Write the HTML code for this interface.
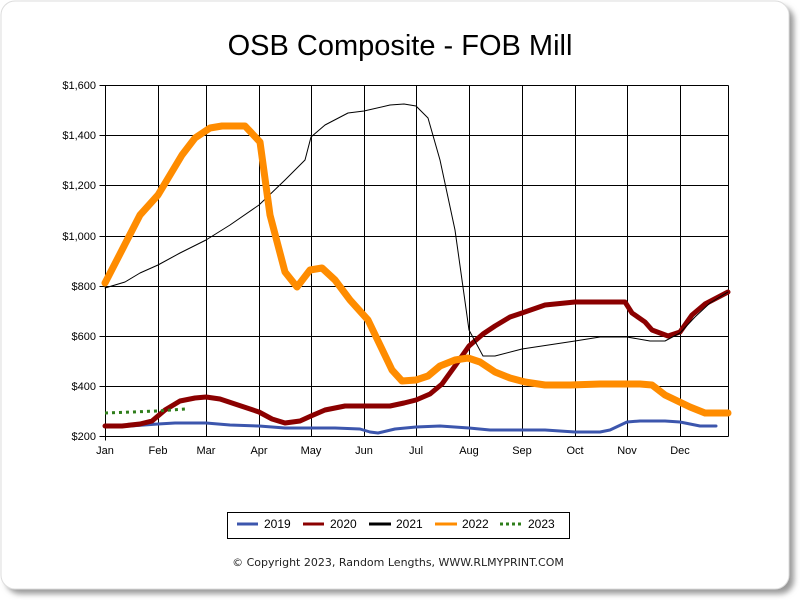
<!DOCTYPE html>
<html><head><style>body{margin:0;background:#fff}svg{display:block;font-family:"Liberation Sans",sans-serif}</style></head><body>
<svg width="800" height="600" xmlns="http://www.w3.org/2000/svg">
<defs><filter id="sh" x="-5%" y="-5%" width="110%" height="110%"><feGaussianBlur stdDeviation="3"/></filter></defs>
<rect x="6" y="6" width="788" height="588" rx="14" fill="#999" filter="url(#sh)"/>
<rect x="1" y="1" width="788" height="588" rx="14" fill="#fff" stroke="#ddd"/>
<text x="400" y="55" font-size="29" text-anchor="middle">OSB Composite - FOB Mill</text>
<g stroke="#000" stroke-width="1" fill="none" transform="translate(0.5,0.5)">
<path d="M105,85H728M105,135H728M105,185H728M105,236H728M105,286H728M105,336H728M105,386H728"/>
<path d="M158,85V436M206,85V436M259,85V436M311,85V436M364,85V436M416,85V436M469,85V436M522,85V436M575,85V436M627,85V436M680,85V436M728,85V436"/>
<path d="M99,85H105M99,135H105M99,185H105M99,236H105M99,286H105M99,336H105M99,386H105M99,436H105"/>
<path d="M105,85V440M100,436H728"/>
</g>
<g font-size="11" text-anchor="end">
<text x="96" y="89">$1,600</text><text x="96" y="139">$1,400</text><text x="96" y="189">$1,200</text><text x="96" y="240">$1,000</text><text x="96" y="290">$800</text><text x="96" y="340">$600</text><text x="96" y="390">$400</text><text x="96" y="440">$200</text>
</g>
<g font-size="11" text-anchor="middle">
<text x="105" y="454">Jan</text><text x="158" y="454">Feb</text><text x="206" y="454">Mar</text><text x="259" y="454">Apr</text><text x="311" y="454">May</text><text x="364" y="454">Jun</text><text x="416" y="454">Jul</text><text x="469" y="454">Aug</text><text x="522" y="454">Sep</text><text x="575" y="454">Oct</text><text x="627" y="454">Nov</text><text x="680" y="454">Dec</text>
</g>
<g fill="none" stroke-linejoin="round" stroke-linecap="round">
<polyline stroke="#3c56ad" stroke-width="3" points="105,426 130,426 158,424 175,423 206,423 230,425 259,426 285,428 311,428 335,428 360,429 370,432 378,433 395,429 416,427 440,426 469,428 490,430 522,430 545,430 575,432 600,432 610,430 627,422 640,421 665,421 680,422 700,426 716,426"/>
<polyline stroke="#8b0000" stroke-width="5" points="105,426 122,426 140,424 152,421 165,410 180,401 195,398 206,397 220,399 235,404 259,412 272,419 285,423 300,421 311,416 325,410 345,406 364,406 390,406 404,403 416,400 430,394 442,384 455,366 469,346 483,334 495,326 510,317 522,313 545,305 575,302 600,302 625,302 632,313 645,322 652,330 668,336 680,332 692,315 705,304 728,292"/>
<polyline stroke="#000" stroke-width="1" points="105,288 125,282 140,273 158,265 180,253 206,240 230,225 259,205 285,180 305,160 311,137 325,125 348,113 364,111 390,105 404,104 416,106 428,118 440,160 455,230 469,330 483,356 495,356 522,349 575,341 600,337 627,337 650,341 665,341 680,333 695,317 710,303 728,292"/>
<polyline stroke="#ff8c00" stroke-width="7" points="105,283 122,250 140,215 158,195 170,175 182,155 195,138 210,128 222,126 245,126 260,142 270,215 285,272 297,287 310,270 322,268 335,280 350,300 368,320 380,345 392,370 402,381 416,380 428,376 440,366 455,360 468,358 480,362 495,372 510,378 525,382 545,385 570,385 600,384 640,384 652,385 665,395 690,407 705,413 728,413"/>
<polyline stroke="#2e7d1a" stroke-width="3" stroke-dasharray="3,4" stroke-linecap="butt" points="105,413 158,411 185,409"/>
</g>
<rect x="227.5" y="512.5" width="342" height="26" fill="none" stroke="#000"/>
<g stroke-width="3"><path d="M237,524H258" stroke="#3c56ad"/><path d="M303,524H324" stroke="#8b0000"/><path d="M369,524H391" stroke="#000"/><path d="M435,524H457" stroke="#ff8c00"/><path d="M500,524H522" stroke="#2e7d1a" stroke-dasharray="3,3"/></g>
<g font-size="12"><text x="264" y="528">2019</text><text x="330" y="528">2020</text><text x="396" y="528">2021</text><text x="462" y="528">2022</text><text x="528" y="528">2023</text></g>
<text x="398" y="566" font-size="11" text-anchor="middle" font-family="DejaVu Sans" fill="#222">© Copyright 2023, Random Lengths, WWW.RLMYPRINT.COM</text>
</svg>
</body></html>
